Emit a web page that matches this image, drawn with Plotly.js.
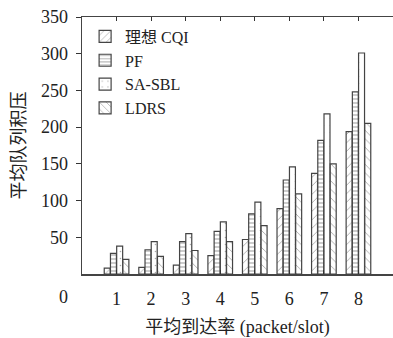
<!DOCTYPE html>
<html>
<head>
<meta charset="utf-8">
<script src="https://cdn.plot.ly/plotly-3.0.1.min.js"></script>
<style>html,body{margin:0;padding:0;background:#fff;}#chart{width:393px;height:338px;}</style>
</head>
<body>
<div id="chart"></div>
<script>
const categories = [1, 2, 3, 4, 5, 6, 7, 8];
const seriesNames = ['理想 CQI', 'PF', 'SA-SBL', 'LDRS'];
const cqi  = [8, 9, 12, 25, 47, 89, 137, 194];
const pf   = [28, 33, 44, 58, 82, 128, 182, 248];
const sasbl = [38, 44, 55, 71, 98, 146, 218, 301];
const ldrs = [20, 24, 32, 44, 66, 109, 150, 205];
const yTickVals = [50, 100, 150, 200, 250, 300, 350];
const xTickVals = [1, 2, 3, 4, 5, 6, 7, 8];

const FONT = '"Liberation Serif", "Noto Sans CJK SC", serif';
const patterns = [
  {shape: '/', size: 6, solidity: 0.15},
  {shape: '-', size: 4, solidity: 0.3},
  {shape: '.', size: 7, solidity: 0.04},
  {shape: '\\', size: 6, solidity: 0.15}
];
const allData = [cqi, pf, sasbl, ldrs];

const traces = allData.map((vals, i) => ({
  type: 'bar',
  name: seriesNames[i],
  x: categories,
  y: vals,
  marker: {
    color: '#ffffff',
    line: {color: '#444444', width: 1.2},
    pattern: Object.assign({fgcolor: '#555555', bgcolor: '#ffffff', fillmode: 'overlay'}, patterns[i])
  }
}));

const layout = {
  width: 393,
  height: 338,
  margin: {l: 82, r: 0, t: 17, b: 64},
  paper_bgcolor: '#ffffff',
  plot_bgcolor: '#ffffff',
  barmode: 'group',
  bargap: 0.28,
  bargroupgap: 0.04,
  font: {family: FONT, size: 18, color: '#222222'},
  showlegend: true,
  legend: {
    x: 0.01, y: 0.99, xanchor: 'left', yanchor: 'top',
    bgcolor: 'rgba(0,0,0,0)',
    font: {family: FONT, size: 16, color: '#222222'},
    itemwidth: 30,
    tracegroupgap: 0
  },
  xaxis: {
    range: [0, 9],
    tickvals: xTickVals,
    ticktext: xTickVals.map(String),
    ticks: 'inside',
    ticklen: 4,
    tickcolor: '#333333',
    showline: true,
    linecolor: '#444444',
    linewidth: 1.5,
    mirror: 'ticks',
    showgrid: false,
    zeroline: false,
    ticklabelstandoff: 8,
    tickfont: {family: FONT, size: 18},
    title: {text: '平均到达率 (packet/slot)', font: {family: FONT, size: 18}, standoff: 12}
  },
  yaxis: {
    range: [0, 350],
    tickvals: yTickVals,
    ticks: 'outside',
    ticklen: 5,
    tickcolor: '#333333',
    showline: true,
    linecolor: '#444444',
    linewidth: 1.5,
    mirror: false,
    showgrid: false,
    zeroline: false,
    ticklabelstandoff: 4,
    tickfont: {family: FONT, size: 18},
    title: {text: '平均队列积压', font: {family: FONT, size: 18}, standoff: 10}
  },
  annotations: [{
    text: '0', xref: 'paper', yref: 'paper', x: -0.061, y: -0.089,
    xanchor: 'center', yanchor: 'middle', showarrow: false,
    font: {family: FONT, size: 18, color: '#222222'}
  }]
};

Plotly.newPlot('chart', traces, layout, {displayModeBar: false, staticPlot: true});
</script>
</body>
</html>
